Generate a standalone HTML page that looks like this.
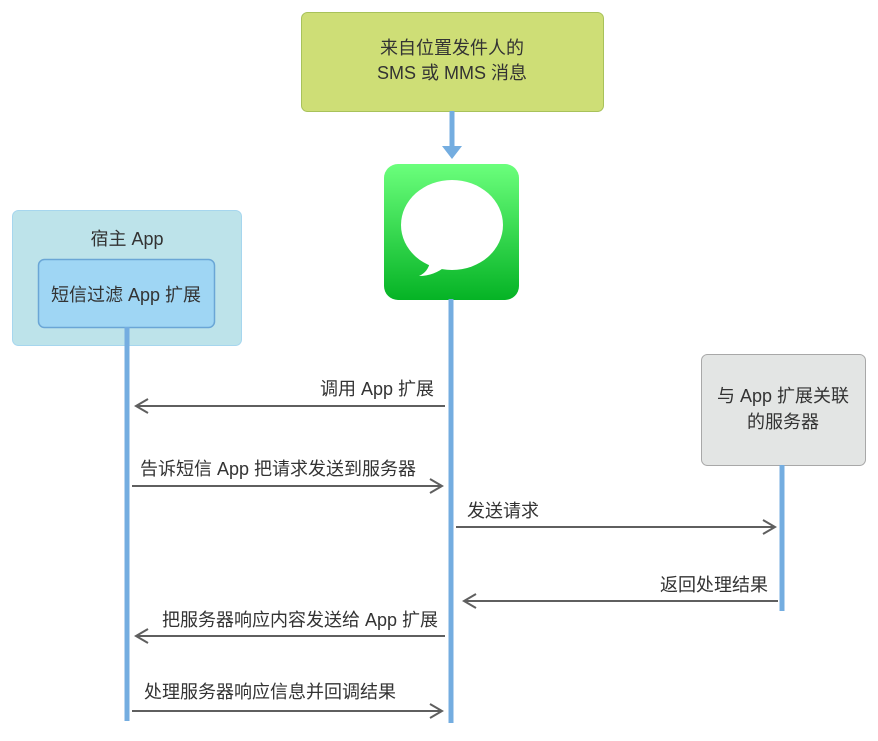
<!DOCTYPE html>
<html><head><meta charset="utf-8"><style>
html,body{margin:0;padding:0;background:#fff;}
svg text{font-family:"Liberation Sans","Noto Sans CJK SC",sans-serif;font-size:18px;fill:#333;}
</style></head><body>
<svg width="878" height="736" viewBox="0 0 878 736" xmlns="http://www.w3.org/2000/svg">
<defs>
<linearGradient id="g" x1="0" y1="0" x2="0" y2="1">
<stop offset="0" stop-color="#6bff7c"/><stop offset="1" stop-color="#05b325"/></linearGradient>
</defs>
<rect x="301.5" y="12.5" width="302" height="99" rx="6" fill="#cede76" stroke="#a8c25a"/>
<text x="452" y="54" text-anchor="middle">来自位置发件人的</text>
<text x="452" y="79" text-anchor="middle">SMS 或 MMS 消息</text>
<line x1="452" y1="111" x2="452" y2="147" stroke="#74ade0" stroke-width="5"/>
<polygon points="442,146 462,146 452,159" fill="#74ade0"/>
<rect x="384" y="164" width="135" height="136" rx="14" fill="url(#g)"/>
<ellipse cx="452" cy="225" rx="51" ry="45" fill="#fff"/>
<path d="M430,262 Q428,272 419,276 Q434,276 446,266 Z" fill="#fff"/>
<rect x="12.5" y="210.5" width="229" height="135" rx="6" fill="#bde3ea" stroke="#a6d6ee"/>
<text x="127" y="245" text-anchor="middle">宿主 App</text>
<rect x="38.5" y="259.5" width="176" height="68" rx="6" fill="#9fd6f4" stroke="#6aa6d6" stroke-width="1.5"/>
<text x="126" y="301" text-anchor="middle">短信过滤 App 扩展</text>
<rect x="701.5" y="354.5" width="164" height="111" rx="6" fill="#e3e5e4" stroke="#a8a8a8"/>
<text x="783" y="402" text-anchor="middle">与 App 扩展关联</text>
<text x="783" y="428" text-anchor="middle">的服务器</text>
<line x1="127" y1="327" x2="127" y2="721" stroke="#74ade0" stroke-width="5"/>
<line x1="451" y1="299" x2="451" y2="723" stroke="#74ade0" stroke-width="5"/>
<line x1="782" y1="465" x2="782" y2="611" stroke="#74ade0" stroke-width="5"/>
<g stroke="#5f5f5f" stroke-width="2" fill="none">
<line x1="445" y1="406" x2="136" y2="406"/><polyline points="148,399 136,406 148,413"/>
<line x1="132" y1="486" x2="442" y2="486"/><polyline points="430,479 442,486 430,493"/>
<line x1="456" y1="527" x2="775" y2="527"/><polyline points="763,520 775,527 763,534"/>
<line x1="778" y1="601" x2="464" y2="601"/><polyline points="476,594 464,601 476,608"/>
<line x1="445" y1="636" x2="136" y2="636"/><polyline points="148,629 136,636 148,643"/>
<line x1="132" y1="711" x2="442" y2="711"/><polyline points="430,704 442,711 430,718"/>
</g>
<text x="434" y="395" text-anchor="end">调用 App 扩展</text>
<text x="140" y="475">告诉短信 App 把请求发送到服务器</text>
<text x="467" y="517">发送请求</text>
<text x="768" y="591" text-anchor="end">返回处理结果</text>
<text x="438" y="626" text-anchor="end">把服务器响应内容发送给 App 扩展</text>
<text x="144" y="698">处理服务器响应信息并回调结果</text>
</svg>
</body></html>
